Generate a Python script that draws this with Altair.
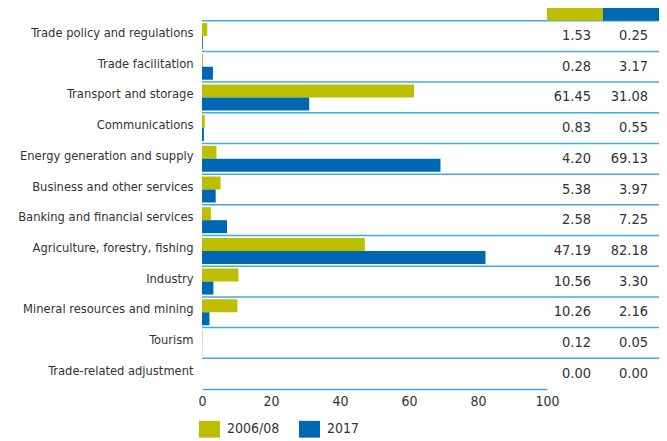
import altair as alt
import pandas as pd

categories = [
    "Trade policy and regulations",
    "Trade facilitation",
    "Transport and storage",
    "Communications",
    "Energy generation and supply",
    "Business and other services",
    "Banking and financial services",
    "Agriculture, forestry, fishing",
    "Industry",
    "Mineral resources and mining",
    "Tourism",
    "Trade-related adjustment",
]
v_2006 = [1.53, 0.28, 61.45, 0.83, 4.20, 5.38, 2.58, 47.19, 10.56, 10.26, 0.12, 0.00]
v_2017 = [0.25, 3.17, 31.08, 0.55, 69.13, 3.97, 7.25, 82.18, 3.30, 2.16, 0.05, 0.00]
series = ["2006/08", "2017"]
colors = ["#BDBE00", "#0068B2"]
x_ticks = [0, 20, 40, 60, 80, 100]

rows = []
for c, a, b in zip(categories, v_2006, v_2017):
    rows.append({"cat": c, "series": series[0], "v": a})
    rows.append({"cat": c, "series": series[1], "v": b})
df = pd.DataFrame(rows)
cat_df = pd.DataFrame({"cat": categories})
head_df = pd.DataFrame({"series": series})

FONT = "DejaVu Sans Condensed, sans-serif"
TXT = "#333333"
SEP = "#3DAEE4"

ysc = alt.Scale(domain=categories, paddingInner=0, paddingOuter=0)
yaxis = alt.Axis(title=None, ticks=False, domain=False, labelFont=FONT,
                 labelFontSize=12.8, labelColor=TXT, labelPadding=9, labelLimit=300,
                 labelOffset=-3)
xsc = alt.Scale(domain=[0, 100], nice=False)

bars = alt.Chart(df).mark_bar(size=13).encode(
    x=alt.X("v:Q", scale=xsc,
            axis=alt.Axis(values=x_ticks, title=None, ticks=False, grid=False,
                          domainColor=SEP, domainWidth=1.5, labelFont=FONT, labelFlush=False,
                          labelFontSize=14, labelColor=TXT, labelPadding=5)),
    y=alt.Y("cat:N", scale=ysc, sort=categories, axis=yaxis),
    yOffset=alt.YOffset("series:N", scale=alt.Scale(domain=series, paddingOuter=0.18, paddingInner=0)),
    color=alt.Color("series:N", scale=alt.Scale(domain=series, range=colors),
                    legend=alt.Legend(title=None, orient="none", direction="horizontal",
                                      legendX=-3, legendY=398, padding=0,
                                      symbolType="M-1,-0.8L1,-0.8L1,0.8L-1,0.8Z",
                                      symbolSize=441, symbolStrokeWidth=0, symbolOpacity=1,
                                      labelFont=FONT, labelFontSize=14, labelColor=TXT,
                                      labelOffset=7, columnPadding=19)),
)

seps = alt.Chart(cat_df).mark_rule(color=SEP, strokeWidth=1.5).encode(
    y=alt.Y("cat:N", scale=ysc, sort=categories, bandPosition=0, axis=yaxis),
    x=alt.value(0), x2=alt.value(458),
)

def col_text(s, xpos):
    return alt.Chart(df).transform_filter(alt.datum.series == s).mark_text(
        align="right", baseline="middle", font=FONT, fontSize=14.5, color=TXT, dy=0
    ).encode(
        y=alt.Y("cat:N", scale=ysc, sort=categories, axis=yaxis),
        x=alt.value(xpos),
        text=alt.Text("v:Q", format=".2f"),
    )

heads = alt.Chart(head_df).mark_rect().encode(
    x=alt.X("series:N", scale=alt.Scale(domain=series, range=[345, 457], paddingInner=0, paddingOuter=0), axis=None),
    y=alt.value(-22), y2=alt.value(0),
    color=alt.Color("series:N", scale=alt.Scale(domain=series, range=colors), legend=None),
)

chart = alt.layer(seps, bars, col_text(series[0], 389), col_text(series[1], 446), heads).properties(
    width=345, height=368.3,
    padding={"left": 194, "top": 12.7, "right": 112, "bottom": 52},
    autosize=alt.AutoSizeParams(type="none"),
).configure_view(stroke=None)

chart.save("out.html", embed_options={"renderer": "svg", "actions": False})
